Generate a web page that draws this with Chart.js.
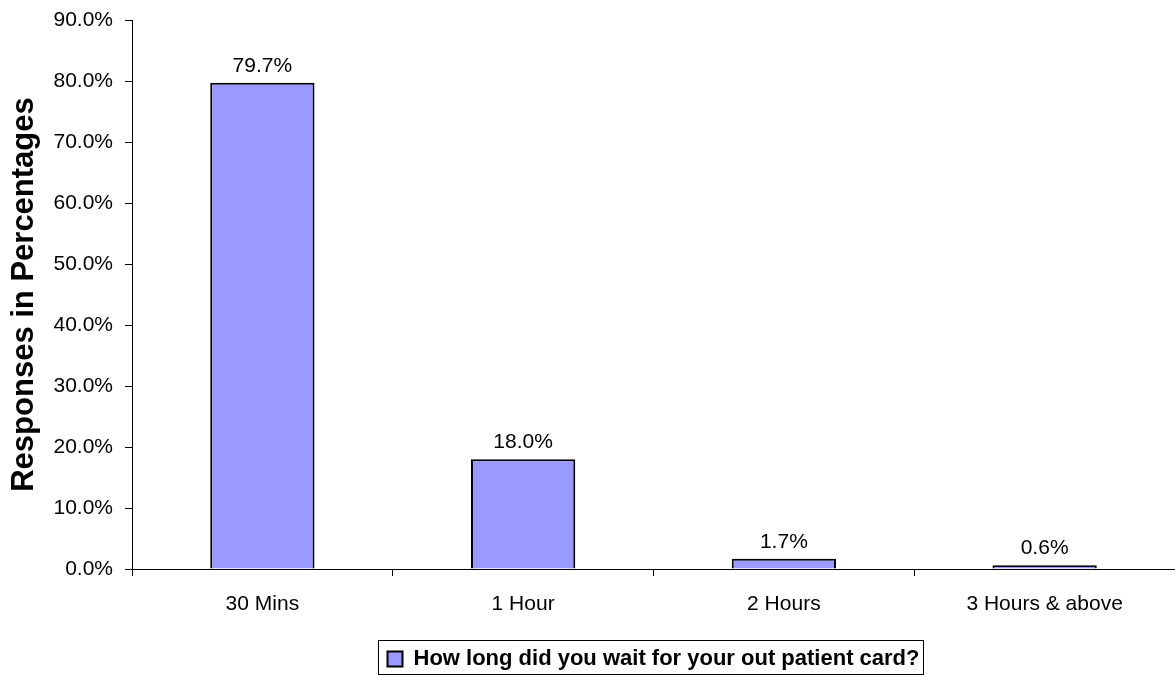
<!DOCTYPE html>
<html>
<head>
<meta charset="utf-8">
<script src="https://cdn.jsdelivr.net/npm/chart.js@4"></script>
<style>
  html, body { margin: 0; padding: 0; background: #fff; }
  #wrap { width: 1175px; height: 675px; }
</style>
</head>
<body>
<div id="wrap"><canvas id="myChart" width="1175" height="675"></canvas></div>
<script>
const categories = ['30 Mins', '1 Hour', '2 Hours', '3 Hours & above'];
const responses = [79.7, 18.0, 1.7, 0.6];
const seriesName = 'How long did you wait for your out patient card?';
const yTitle = 'Responses in Percentages';
const yMax = 90;
const yStep = 10;

const fontFamily = 'Arial, "Liberation Sans", sans-serif';

// value labels above each bar
const barLabels = {
    id: 'barLabels',
    afterDatasetsDraw(chart) {
        const { ctx } = chart;
        const meta = chart.getDatasetMeta(0);
        ctx.save();
        ctx.font = '21px ' + fontFamily;
        ctx.fillStyle = '#000';
        ctx.textAlign = 'center';
        ctx.textBaseline = 'alphabetic';
        meta.data.forEach((bar, i) => {
            ctx.fillText(responses[i].toFixed(1) + '%', bar.x, bar.y - 11);
        });
        ctx.restore();
    }
};

// thin frame around the legend
const legendFrame = {
    id: 'legendFrame',
    afterDraw(chart) {
        const boxes = chart.legend.legendHitBoxes;
        if (!boxes || !boxes.length) return;
        const b = boxes[0];
        const { ctx } = chart;
        ctx.save();
        ctx.strokeStyle = '#000';
        ctx.lineWidth = 1;
        ctx.strokeRect(Math.round(b.left) - 9.5, Math.round(b.top) - 7.5, Math.round(b.width) + 13, 34);
        ctx.restore();
    }
};

const ctx = document.getElementById('myChart').getContext('2d');
new Chart(ctx, {
    type: 'bar',
    data: {
        labels: categories,
        datasets: [{
            label: seriesName,
            data: responses,
            backgroundColor: '#9999FF',
            borderColor: '#000',
            borderWidth: 2,
            borderSkipped: 'bottom',
            categoryPercentage: 0.4,
            barPercentage: 1
        }]
    },
    options: {
        responsive: false,
        animation: false,
        layout: { padding: { top: 20, right: 0, left: 0, bottom: -5 } },
        plugins: {
            legend: {
                position: 'bottom',
                fullSize: false,
                labels: {
                    color: '#000',
                    font: { family: fontFamily, size: 22, weight: 'bold' },
                    boxWidth: 15,
                    boxHeight: 15,
                    padding: 5,
                    generateLabels(chart) {
                        return [{
                            text: seriesName,
                            fillStyle: '#9999FF',
                            strokeStyle: '#000',
                            lineWidth: 2,
                            datasetIndex: 0
                        }];
                    }
                }
            },
            tooltip: { enabled: false }
        },
        scales: {
            x: {
                grid: { drawOnChartArea: false, tickLength: 7, color: '#000', offset: true },
                border: { color: '#000', width: 1 },
                ticks: {
                    color: '#000',
                    font: { family: fontFamily, size: 21 },
                    padding: 16
                },
                afterFit(scale) { scale.height = 74; }
            },
            y: {
                min: 0,
                max: yMax,
                grid: { drawOnChartArea: false, tickLength: 7, color: '#000' },
                border: { color: '#000', width: 1 },
                ticks: {
                    stepSize: yStep,
                    color: '#000',
                    font: { family: fontFamily, size: 21 },
                    padding: 12,
                    callback: v => v.toFixed(1) + '%'
                },
                title: {
                    display: true,
                    text: yTitle,
                    color: '#000',
                    font: { family: fontFamily, size: 31, weight: 'bold' },
                    padding: { top: 6, bottom: 4 }
                },
                afterFit(scale) {
                    scale.width = 132;
                    scale.paddingTop = 0;
                    scale.paddingBottom = 0;
                }
            }
        }
    },
    plugins: [barLabels, legendFrame]
});
</script>
</body>
</html>
